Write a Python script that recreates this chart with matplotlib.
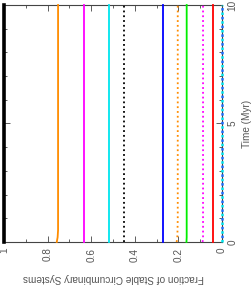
import matplotlib
matplotlib.use("Agg")
import matplotlib.pyplot as plt
from matplotlib.ticker import MultipleLocator

# Data (time in Myr, fraction of stable systems)
time = [0, 0.2, 0.5, 1, 2, 3, 4, 5, 6, 7, 8, 9, 10]
frac_black_solid = [1.0] * 13
frac_orange_solid = [0.758, 0.754, 0.752, 0.752, 0.752, 0.752, 0.752, 0.752, 0.752, 0.752, 0.752, 0.752, 0.752]
frac_magenta_solid = [0.635] * 13
frac_cyan_solid = [0.518] * 13
frac_black_dotted = [0.451] * 13
frac_blue_solid = [0.271] * 13
frac_orange_dotted = [0.208, 0.205, 0.204, 0.203, 0.203, 0.203, 0.203, 0.203, 0.203, 0.203, 0.203, 0.203, 0.203]
frac_green_solid = [0.163, 0.162, 0.162, 0.162, 0.162, 0.162, 0.162, 0.162, 0.162, 0.162, 0.162, 0.162, 0.162]
frac_magenta_dotted = [0.089, 0.087, 0.087, 0.087, 0.087, 0.087, 0.087, 0.087, 0.087, 0.087, 0.087, 0.087, 0.087]
frac_red_solid = [0.041] * 13
frac_cyan_dotted = [0.0] * 13
frac_blue_dotted = [0.0] * 13

frac_ticks = [1, 0.8, 0.6, 0.4, 0.2, 0]
frac_ticklabels = ["1", "0.8", "0.6", "0.4", "0.2", "0"]
time_ticks = [0, 5, 10]
time_ticklabels = ["0", "5", "10"]

plt.rcParams['font.family'] = ['Liberation Sans', 'DejaVu Sans']

fig = plt.figure(figsize=(2.52, 2.90), dpi=100)
ax = fig.add_axes([4/252, 48/290, 218/252, 237/290])

series = [
    (frac_black_solid, '#000000', '-'),
    (frac_orange_solid, '#ff8c00', '-'),
    (frac_magenta_solid, '#ff00ff', '-'),
    (frac_cyan_solid, '#00e5ee', '-'),
    (frac_black_dotted, '#000000', ':'),
    (frac_blue_solid, '#0000ff', '-'),
    (frac_orange_dotted, '#ff8c00', ':'),
    (frac_green_solid, '#00ee00', '-'),
    (frac_magenta_dotted, '#ff00ff', ':'),
    (frac_red_solid, '#ff0000', '-'),
]
for vals, c, ls in series:
    lw = 2.6 if (c == '#000000' and ls == '-') else 1.3
    ax.plot(vals, time, color=c, ls=ls, lw=lw, clip_on=False, zorder=3)

ax.plot(frac_cyan_dotted, time, color='#00e5ee', lw=1.8, ls=(0, (1, 2.5)), clip_on=False, zorder=4)
ax.plot(frac_blue_dotted, time, color='#1e6fff', lw=1.8, ls=(1.75, (1, 2.5)), clip_on=False, zorder=4)

ax.set_xlim(1, 0)
ax.set_ylim(0, 10)

fs = 7.2
ax.set_xticks(frac_ticks)
ax.set_xticklabels(frac_ticklabels, rotation=90, fontsize=fs, color='#555555')
ax.xaxis.set_minor_locator(MultipleLocator(0.1))
ax.set_yticks(time_ticks)
ax.set_yticklabels(time_ticklabels, rotation=90, fontsize=fs, color='#555555', va='center')
ax.yaxis.set_minor_locator(MultipleLocator(1))
ax.yaxis.tick_right()
ax.yaxis.set_label_position('right')

ax.tick_params(which='both', direction='in', top=True, bottom=True, left=True, right=True,
               color='#444444', width=0.6)
ax.tick_params(which='major', length=4, pad=4)
ax.tick_params(which='minor', length=2)

ax.set_xlabel("Fraction of Stable Circumbinary Systems", rotation=180, fontsize=fs,
              color='#555555', labelpad=8)
ax.set_ylabel("Time (Myr)", rotation=90, fontsize=fs, color='#555555', labelpad=3)

for s in ax.spines.values():
    s.set_color('#444444')
    s.set_linewidth(0.8)

fig.savefig("out.png", dpi=100)
